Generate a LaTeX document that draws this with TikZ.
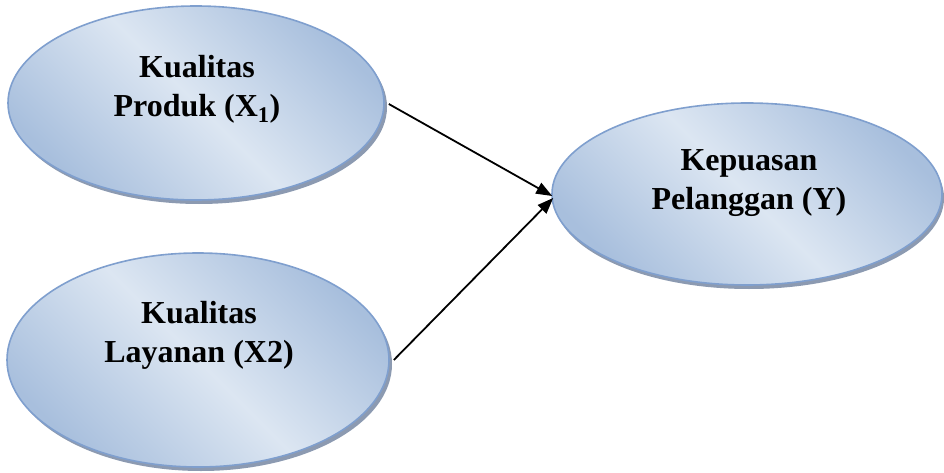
\documentclass[tikz,border=0pt]{standalone}
\usepackage{fontspec}
\setmainfont{Liberation Serif}
\usetikzlibrary{shapes.geometric,arrows.meta}
\definecolor{elldark}{HTML}{A8BFDD}
\definecolor{elllight}{HTML}{DCE6F2}
\definecolor{ellline}{HTML}{7F9FCE}
\definecolor{ellshadow}{HTML}{7F8FA8}
\tikzset{
  var/.style={ellipse, inner sep=0pt, draw=ellline, line width=1.6pt,
    top color=elldark, bottom color=elldark, middle color=elllight, shading angle=-45},
  shadowell/.style={ellipse, inner sep=0pt, fill=ellshadow, opacity=0.9},
  lbl/.style={align=center, inner sep=0pt, font=\fontsize{32}{39}\selectfont\bfseries},
  conn/.style={line width=1.8pt, -{Triangle[length=16pt,width=12pt]}}
}
\begin{document}
\begin{tikzpicture}[x=1pt,y=-1pt]
\useasboundingbox (0,0) rectangle (944,473);
% shadows
\node[shadowell, minimum width=376pt, minimum height=194pt] (s1) at (199,107) {};
\node[shadowell, minimum width=382pt, minimum height=214pt] (s2) at (201,364) {};
\node[shadowell, minimum width=390pt, minimum height=182pt] (s3) at (749,198) {};
% ellipses
\node[var, minimum width=376pt, minimum height=194pt] (x1) at (196,103) {};
\node[var, minimum width=382pt, minimum height=214pt] (x2) at (198,360) {};
\node[var, minimum width=390pt, minimum height=182pt] (y) at (747,194) {};
% labels
\node[lbl] (x1t) at (197,89) {Kualitas\\Produk (X\textsubscript{1})};
\node[lbl] (x2t) at (199,335) {Kualitas\\Layanan (X2)};
\node[lbl] (yt) at (749,183) {Kepuasan\\Pelanggan (Y)};
% arrows
\draw[conn] ([xshift=4pt,yshift=-1pt]x1.east) -- ([xshift=1pt,yshift=-2pt]y.west);
\draw[conn] ([xshift=4pt]x2.east) -- ([xshift=2pt,yshift=-4pt]y.west);
\end{tikzpicture}
\end{document}
